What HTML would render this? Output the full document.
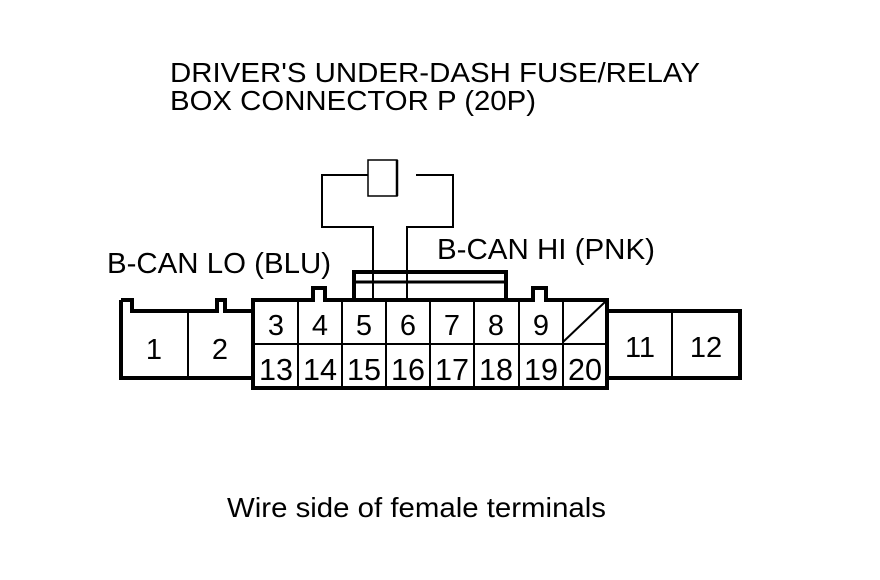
<!DOCTYPE html>
<html><head><style>body{margin:0;background:#fff}svg{display:block}</style></head><body>
<svg width="880" height="580" xmlns="http://www.w3.org/2000/svg" font-family="Liberation Sans, Arial, sans-serif">
<rect width="880" height="580" fill="#fff"/>
<g fill="#000" font-size="28">
<text x="170" y="82" textLength="530" lengthAdjust="spacingAndGlyphs">DRIVER'S UNDER-DASH FUSE/RELAY</text>
<text x="170" y="110" textLength="366" lengthAdjust="spacingAndGlyphs">BOX CONNECTOR P (20P)</text>
<text x="107" y="273" font-size="29" textLength="224" lengthAdjust="spacingAndGlyphs">B-CAN LO (BLU)</text>
<text x="437" y="259" font-size="29" textLength="218" lengthAdjust="spacingAndGlyphs">B-CAN HI (PNK)</text>
<text x="227" y="517" font-size="28" textLength="379" lengthAdjust="spacingAndGlyphs">Wire side of female terminals</text>
</g>
<g fill="none" stroke="#000">
<path d="M368,175 H322 V227 H373 V300" stroke-width="2"/>
<path d="M416,175 H453 V227 H407 V300" stroke-width="2"/>
<path d="M368,196 V160 H397 V196 Z" stroke-width="1.5"/>
<line x1="397" y1="160" x2="397" y2="196" stroke-width="2.5"/>
<path d="M354,300 V272 H506 V300" stroke-width="4"/>
<line x1="354" y1="282" x2="506" y2="282" stroke-width="3"/>
<path d="M121,300 H132 V311 H217 V300 H225 V311 H253 M121,300 V378 H253" stroke-width="4"/>
<line x1="188" y1="311" x2="188" y2="378" stroke-width="2"/>
<path d="M253,300 H313 V288 H325 V300 H533 V288 H546 V300 H607 V388 H253 Z" stroke-width="4"/>
<line x1="253" y1="344" x2="607" y2="344" stroke-width="2"/>
<g stroke-width="2">
<line x1="298" y1="300" x2="298" y2="388"/><line x1="342" y1="300" x2="342" y2="388"/>
<line x1="386" y1="300" x2="386" y2="388"/><line x1="430" y1="300" x2="430" y2="388"/>
<line x1="474" y1="300" x2="474" y2="388"/><line x1="519" y1="300" x2="519" y2="388"/>
<line x1="563" y1="300" x2="563" y2="388"/>
<line x1="563" y1="342" x2="605" y2="302"/>
</g>
<path d="M607,311 H740 V378 H607" stroke-width="4"/>
<line x1="672" y1="311" x2="672" y2="378" stroke-width="2"/>
</g>
<g fill="#000" font-size="29" text-anchor="middle">
<text x="276" y="335">3</text><text x="320" y="335">4</text><text x="364" y="335">5</text><text x="408" y="335">6</text>
<text x="452" y="335">7</text><text x="496" y="335">8</text><text x="541" y="335">9</text>
<text x="154" y="359">1</text><text x="220" y="359">2</text>
<text x="640" y="357">11</text><text x="706" y="357">12</text>
</g>
<g fill="#000" font-size="31" text-anchor="middle">
<text x="276" y="380" textLength="34" lengthAdjust="spacingAndGlyphs">13</text><text x="320" y="380" textLength="34" lengthAdjust="spacingAndGlyphs">14</text>
<text x="364" y="380" textLength="34" lengthAdjust="spacingAndGlyphs">15</text><text x="408" y="380" textLength="34" lengthAdjust="spacingAndGlyphs">16</text>
<text x="452" y="380" textLength="34" lengthAdjust="spacingAndGlyphs">17</text><text x="496" y="380" textLength="34" lengthAdjust="spacingAndGlyphs">18</text>
<text x="541" y="380" textLength="34" lengthAdjust="spacingAndGlyphs">19</text><text x="585" y="380" textLength="34" lengthAdjust="spacingAndGlyphs">20</text>
</g>
</svg>
</body></html>
